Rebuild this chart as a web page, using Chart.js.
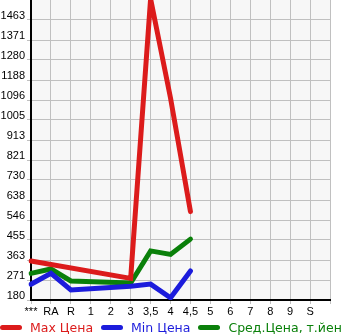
<!DOCTYPE html>
<html>
<head>
<meta charset="utf-8">
<script src="https://cdn.jsdelivr.net/npm/chart.js@4"></script>
<style>
  html, body { margin: 0; padding: 0; background: #fff; }
  #wrap { position: relative; width: 345px; height: 335px; overflow: hidden; }
  #legend {
    position: absolute; left: 0; top: 319px; width: 400px; height: 16px;
    display: flex; align-items: center; white-space: nowrap;
    font-family: 'DejaVu Sans', sans-serif; font-size: 12.5px;
  }
  .item { display: flex; align-items: center; margin-right: 8px; }
  .swatch { width: 22px; height: 5px; border-radius: 3px; margin-right: 8px; }
</style>
</head>
<body>
<div id="wrap">
  <canvas id="priceChart"></canvas>
  <div id="legend"></div>
</div>
<script>
  // categories (last one is an empty slot at the right edge)
  const labels = ['***', 'RA', 'R', '1', '2', '3', '3,5', '4', '4,5', '5', '6', '7', '8', '9', 'S', ''];

  // series (null = no data, line spans the gap)
  const maxPrice = [359, null, null, null, null, 279, 1560, 1105, 585, null, null, null, null, null, null, null];
  const minPrice = [252, 302, 226, null, null, 243, 253, 190, 313, null, null, null, null, null, null, null];
  const avgPrice = [302, 322, 267, null, null, 258, 405, 389, 459, null, null, null, null, null, null, null];

  // y tick labels
  const yTicks = [180, 271, 363, 455, 546, 638, 730, 821, 913, 1005, 1096, 1188, 1280, 1371, 1463];

  const seriesNames = ['Max Цена', 'Min Цена', 'Сред.Цена, т.йен'];
  const seriesColors = ['#dc1b1b', '#1c1cdc', '#0a800a'];

  const plotBg = {
    id: 'plotBg',
    beforeDraw(chart) {
      const a = chart.chartArea;
      const c = chart.ctx;
      c.save();
      c.fillStyle = '#f7f7f7';
      c.fillRect(a.left, a.top, a.right - a.left, a.bottom - a.top);
      c.restore();
    }
  };

  const tickFont = { family: 'Liberation Sans', size: 11 };

  const ctx = document.getElementById('priceChart').getContext('2d');
  new Chart(ctx, {
    type: 'line',
    data: {
      labels: labels,
      datasets: [
        { label: seriesNames[0], data: maxPrice, borderColor: seriesColors[0], backgroundColor: seriesColors[0] },
        { label: seriesNames[1], data: minPrice, borderColor: seriesColors[1], backgroundColor: seriesColors[1] },
        { label: seriesNames[2], data: avgPrice, borderColor: seriesColors[2], backgroundColor: seriesColors[2] }
      ]
    },
    options: {
      responsive: true,
      maintainAspectRatio: false,
      animation: false,
      spanGaps: true,
      layout: { padding: { top: 0, right: 15, bottom: 0, left: 0 } },
      elements: {
        line: { borderWidth: 5, tension: 0, borderCapStyle: 'round' },
        point: { radius: 0, hoverRadius: 0 }
      },
      scales: {
        x: {
          offset: false,
          grid: { color: '#c0c0c0', lineWidth: 1, tickLength: 4 },
          border: { color: '#000', width: 2 },
          ticks: { font: tickFont, color: '#000', padding: 1, maxRotation: 0, autoSkip: false },
          afterFit(scale) {
            scale.height = 35;
            scale.paddingLeft = 0;
            scale.paddingRight = 0;
          }
        },
        y: {
          min: 180,
          max: 1554.6,
          grid: { color: '#c0c0c0', lineWidth: 1, tickLength: 4 },
          border: { color: '#000', width: 2 },
          ticks: {
            font: tickFont, color: '#000', padding: 2, labelOffset: -4,
            callback: v => String(v)
          },
          afterBuildTicks(scale) { scale.ticks = yTicks.map(v => ({ value: v })); },
          afterFit(scale) {
            scale.width = 31;
            scale.paddingTop = 0;
            scale.paddingBottom = 0;
          }
        }
      },
      plugins: {
        tooltip: { enabled: false },
        legend: { display: false }
      }
    },
    plugins: [plotBg]
  });

  // legend as plain text under the chart
  const legend = document.getElementById('legend');
  seriesNames.forEach((name, i) => {
    const item = document.createElement('span');
    item.className = 'item';
    const sw = document.createElement('span');
    sw.className = 'swatch';
    sw.style.background = seriesColors[i];
    const txt = document.createElement('span');
    txt.textContent = name;
    txt.style.color = seriesColors[i];
    item.appendChild(sw);
    item.appendChild(txt);
    legend.appendChild(item);
  });
</script>
</body>
</html>
